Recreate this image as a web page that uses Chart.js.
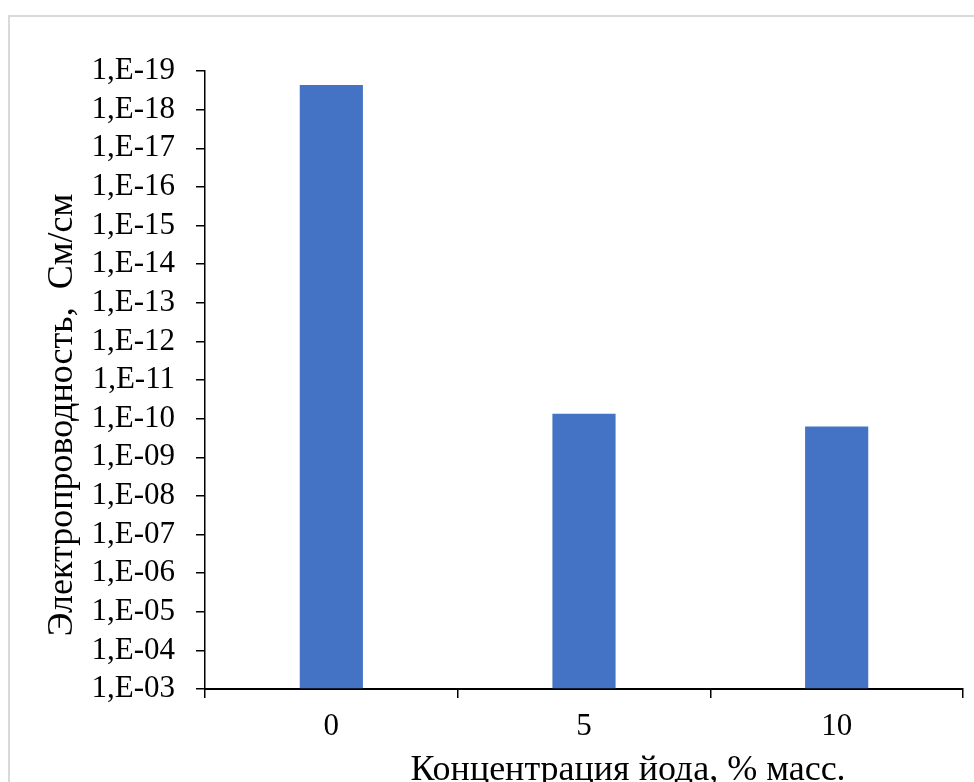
<!DOCTYPE html>
<html>
<head>
<meta charset="utf-8">
<script src="https://cdn.jsdelivr.net/npm/chart.js@4/dist/chart.umd.min.js"></script>
<style>
  html, body { margin: 0; padding: 0; background: #ffffff; }
  #wrap { width: 974px; height: 782px; position: relative; }
</style>
</head>
<body>
<div id="wrap"><canvas id="c" width="974" height="782"></canvas></div>
<script>
// ---- data ----
const categories = ['0', '5', '10'];
const conductivity = [2.3e-19, 7.5e-11, 1.6e-10];
const yTickExponents = [-19, -18, -17, -16, -15, -14, -13, -12, -11, -10, -9, -8, -7, -6, -5, -4, -3];
const yTickLabels = ['1,E-19', '1,E-18', '1,E-17', '1,E-16', '1,E-15', '1,E-14', '1,E-13', '1,E-12',
                     '1,E-11', '1,E-10', '1,E-09', '1,E-08', '1,E-07', '1,E-06', '1,E-05', '1,E-04', '1,E-03'];
const xTitle = 'Концентрация йода, % масс.';
const yTitle = 'Электропроводность,  См/см';

const FONT = '"Liberation Serif", "Times New Roman", serif';

const frameAndTitles = {
  id: 'frameAndTitles',
  beforeDraw(chart) {
    const ctx = chart.ctx;
    ctx.save();
    ctx.fillStyle = '#ffffff';
    ctx.fillRect(0, 0, chart.width, chart.height);
    ctx.strokeStyle = '#d9d9d9';
    ctx.lineWidth = 2;
    ctx.strokeRect(9, 16, 1100, 1100);
    ctx.restore();
  },
  afterDraw(chart) {
    const ctx = chart.ctx;
    ctx.save();
    ctx.fillStyle = '#000000';
    ctx.font = '36px ' + FONT;
    ctx.textAlign = 'center';
    ctx.textBaseline = 'alphabetic';
    ctx.fillText(xTitle, 628, 780);
    ctx.translate(72, 415);
    ctx.rotate(-Math.PI / 2);
    ctx.fillText(yTitle, 0, 0);
    ctx.restore();
  }
};

new Chart(document.getElementById('c'), {
  type: 'bar',
  data: {
    labels: categories,
    datasets: [{
      data: conductivity,
      base: Math.pow(10, yTickExponents[yTickExponents.length - 1]),
      backgroundColor: '#4472C4',
      borderWidth: 0,
      categoryPercentage: 1.0,
      barPercentage: 0.25
    }]
  },
  options: {
    responsive: false,
    animation: false,
    events: [],
    layout: { padding: { top: 71, right: 11, left: 0, bottom: 0 } },
    plugins: { legend: { display: false }, tooltip: { enabled: false }, title: { display: false } },
    scales: {
      x: {
        type: 'category',
        offset: true,
        grid: { display: true, drawOnChartArea: false, drawTicks: true, tickLength: 9, color: '#000000', lineWidth: 1.5, offset: true },
        border: { display: true, color: '#000000', width: 2 },
        ticks: { color: '#000000', font: { family: FONT, size: 31 }, padding: 10, maxRotation: 0, autoSkip: false },
        afterFit(scale) { scale.height = 93; }
      },
      y: {
        type: 'logarithmic',
        reverse: true,
        min: Math.pow(10, yTickExponents[0]),
        max: Math.pow(10, yTickExponents[yTickExponents.length - 1]),
        grid: { display: true, drawOnChartArea: false, drawTicks: true, tickLength: 9, color: '#000000', lineWidth: 1.5 },
        border: { display: true, color: '#000000', width: 1.5 },
        ticks: {
          color: '#000000',
          font: { family: FONT, size: 31 },
          padding: 21,
          autoSkip: false,
          callback(value) {
            const e = Math.round(Math.log10(value));
            const i = yTickExponents.indexOf(e);
            return i >= 0 ? yTickLabels[i] : '';
          }
        },
        afterBuildTicks(scale) {
          scale.ticks = yTickExponents.map(e => ({ value: Math.pow(10, e) }));
        },
        afterFit(scale) { scale.width = 205; }
      }
    }
  },
  plugins: [frameAndTitles]
});
</script>
</body>
</html>
